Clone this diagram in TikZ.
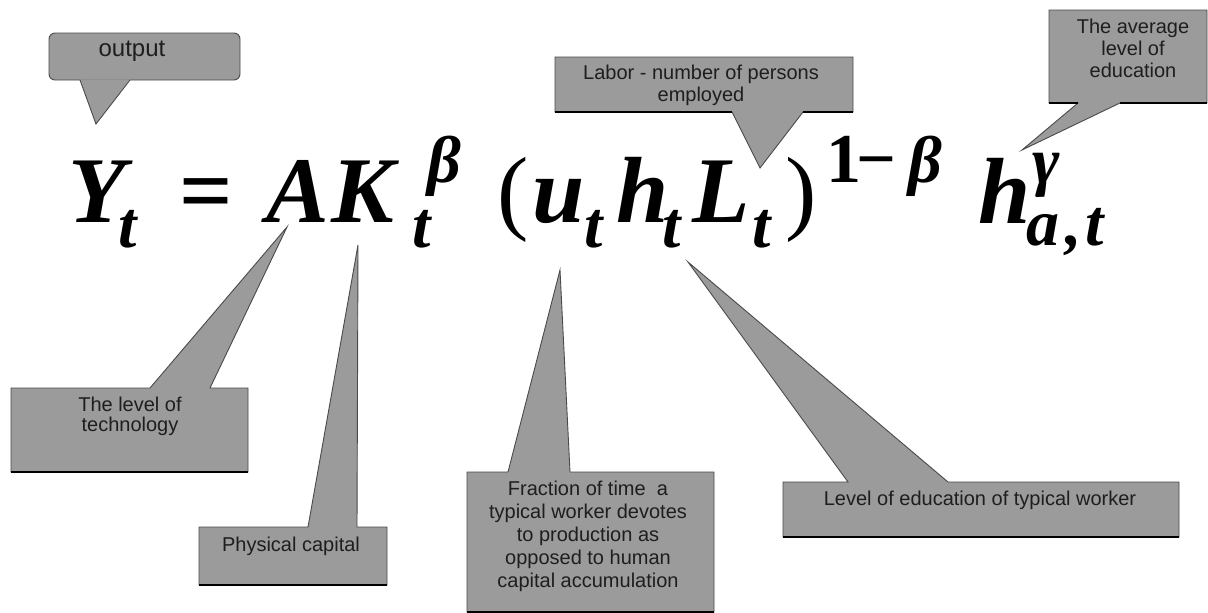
\documentclass[tikz,border=0pt]{standalone}
\usepackage{fontspec}
\setmainfont{LiberationSerif}[Extension=.ttf, UprightFont=*-Regular, BoldFont=*-Bold, ItalicFont=*-Italic, BoldItalicFont=*-BoldItalic]
\newfontfamily\labfont{Liberation Sans}
\definecolor{calloutgray}{HTML}{9B9B9B}
\definecolor{calloutedge}{HTML}{4A4A4A}
\definecolor{labeltext}{HTML}{1E1E1E}
\tikzset{
  callout/.style={fill=calloutgray, draw=calloutedge, line width=0.9pt, line join=miter},
  shadowedge/.style={draw=black, line width=2.4pt},
  lbl/.style={font=\labfont\fontsize{20}{22.5}\selectfont, align=center, inner sep=0pt, text=labeltext},
  mbig/.style={font=\fontsize{94}{94}\selectfont\bfseries\itshape, inner sep=0pt, anchor=base west},
  msmall/.style={font=\fontsize{66}{66}\selectfont\bfseries\itshape, inner sep=0pt, anchor=base west},
  ubig/.style={font=\fontsize{94}{94}\selectfont\bfseries, inner sep=0pt, anchor=base west},
  uparen/.style={font=\fontsize{94}{94}\selectfont, inner sep=0pt, anchor=base west},
  usmall/.style={font=\fontsize{70}{70}\selectfont\bfseries, inner sep=0pt, anchor=base west},
}
\begin{document}
\begin{tikzpicture}[x=1pt,y=-1pt]
\useasboundingbox (0,0) rectangle (1208,613);
\fill[white] (0,0) rectangle (1208,613);

% ---------- formula ----------
\node[mbig]   (nY)    at (68,222)  {Y};
\node[msmall] (nYt)   at (118,247) {t};
\node[ubig]   (neq)   at (179,222) {=};
\node[mbig]   (nA)    at (266,222) {A};
\node[mbig]   (nK)    at (331,222) {K};
\node[msmall] (nKt)   at (412,247) {t};
\node[msmall] (nKb)   at (427,182) {β};
\node[uparen] (nlp)   at (497,222) {(};
\node[mbig]   (nu)    at (532,222) {u};
\node[msmall] (nut)   at (584,247) {t};
\node[mbig]   (nh)    at (616,222) {h};
\node[msmall] (nht)   at (662,247) {t};
\node[mbig]   (nL)    at (692,222) {L};
\node[msmall] (nLt)   at (752,247) {t};
\node[uparen] (nrp)   at (785,222) {)};
\node[usmall] (none)  at (826,182) {1};
\node[usmall] (nmin)  at (856,182) {\symbol{"2212}};
\node[msmall] (nbeta) at (908,182) {β};
\node[mbig]   (nha)   at (978,223) {h};
\node[msmall] (ngam)  at (1032,183) {γ};
\node[msmall] (nat)   at (1026,245) {a\kern6pt,\kern4pt t};

% ---------- callout: output ----------
\draw[callout, rounded corners=6pt] (49,33) rectangle (240,80);
\fill[calloutgray] (80,79.4) -- (96,124) -- (130,79.4) -- cycle;
\draw[draw=calloutedge, line width=0.9pt] (80,80) -- (96,124) -- (130,80);
\node[lbl, font=\labfont\fontsize{24}{26}\selectfont, anchor=base] (tout) at (132,56) {output};

% ---------- callout: labor ----------
\draw[callout] (555,57) -- (853,57) -- (853,112) -- (803,112) -- (760,168) -- (732,112) -- (555,112) -- cycle;
\draw[shadowedge] (555,112) -- (732,112);
\draw[shadowedge] (803,112) -- (853,112);
\node[lbl, font=\labfont\fontsize{20}{22}\selectfont] (tlab) at (701,85) {Labor - number of persons\\employed};

% ---------- callout: average level ----------
\draw[callout] (1049,10) -- (1207,10) -- (1207,103) -- (1120,103) -- (1022,150) -- (1078,103) -- (1049,103) -- cycle;
\draw[shadowedge] (1049,103) -- (1078,103);
\draw[shadowedge] (1120,103) -- (1207,103);
\node[lbl, font=\labfont\fontsize{20}{22}\selectfont] (tavg) at (1133,48) {The average\\level of\\education};

% ---------- callout: technology ----------
\draw[callout] (11,388) -- (150,388) -- (287,227) -- (210,388) -- (248,388) -- (248,472) -- (11,472) -- cycle;
\draw[shadowedge] (11,472) -- (248,472);
\node[lbl, font=\labfont\fontsize{20}{20}\selectfont] (ttech) at (130,416) {The level of\\technology};

% ---------- callout: physical capital ----------
\draw[callout] (199,527) -- (308,527) -- (358,245) -- (357,527) -- (387,527) -- (387,585) -- (199,585) -- cycle;
\draw[shadowedge] (199,585) -- (387,585);
\node[lbl, anchor=base] (tphys) at (291,551) {Physical capital};

% ---------- callout: fraction of time ----------
\draw[callout] (467,472) -- (508,472) -- (560,270) -- (570,472) -- (714,472) -- (714,612) -- (467,612) -- cycle;
\draw[shadowedge] (467,612) -- (714,612);
\node[lbl, font=\labfont\fontsize{20}{23}\selectfont] (tfrac) at (588,536) {Fraction of time\ \ a\\typical worker devotes\\to production as\\opposed to human\\capital accumulation};

% ---------- callout: level of education ----------
\draw[callout] (783,482) -- (848,482) -- (688,262) -- (948,482) -- (1179,482) -- (1179,537) -- (783,537) -- cycle;
\draw[shadowedge] (783,537) -- (1179,537);
\node[lbl, anchor=base] (tedu) at (980,505) {Level of education of typical worker};
\end{tikzpicture}
\end{document}
